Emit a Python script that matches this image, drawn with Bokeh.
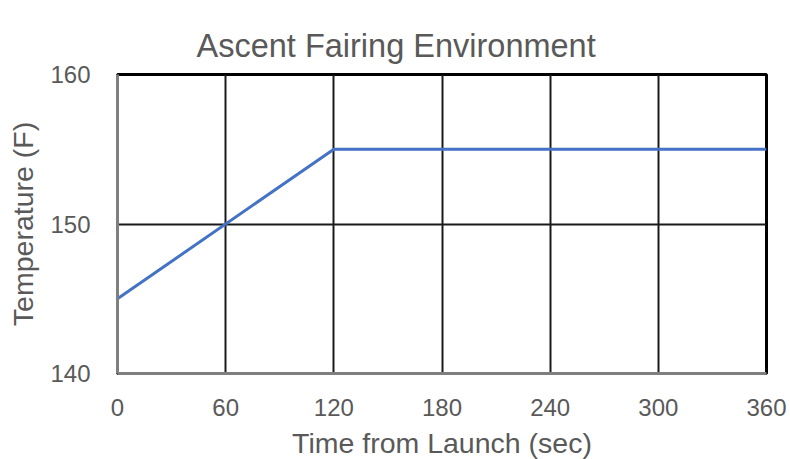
from bokeh.plotting import figure
from bokeh.models import Range1d, FixedTicker, Title
from bokeh.embed import file_html
from bokeh.resources import INLINE

# Data
time_sec = [0, 120, 360]
temperature_f = [145, 155, 155]
x_ticks = [0, 60, 120, 180, 240, 300, 360]
y_ticks = [140, 150, 160]
title_text = "Ascent Fairing Environment"

FONT = "Liberation Sans"
GRAY = "#595959"

p = figure(frame_width=649, frame_height=299, output_backend="svg", toolbar_location=None,
           x_range=Range1d(0, 360), y_range=Range1d(140, 160),
           min_border_left=117, min_border_right=24, min_border_top=74, min_border_bottom=86)
p.title.text = ""

main_title = Title(text=title_text, text_font=FONT, text_font_size="32.5px",
                   text_font_style="normal", text_color=GRAY, align="left",
                   offset=79, vertical_align="top", standoff=18)
p.add_layout(main_title, "above")

# invisible spacer panel between the title and the frame
spacer = Title(text=".", text_font_size="1px", standoff=16, text_color=GRAY, text_alpha=0)
p.add_layout(spacer, "above")

p.line(time_sec, temperature_f, line_color="#4472C4", line_width=3)

p.xaxis.ticker = FixedTicker(ticks=x_ticks)
p.yaxis.ticker = FixedTicker(ticks=y_ticks)
p.xaxis.axis_label = "Time from Launch (sec)"
p.yaxis.axis_label = "Temperature (F)"
for ax in (p.xaxis, p.yaxis):
    ax.axis_label_text_font = FONT
    ax.axis_label_text_font_size = "28.5px"
    ax.axis_label_text_font_style = "normal"
    ax.axis_label_text_color = GRAY
    ax.major_label_text_font = FONT
    ax.major_label_text_font_size = "24px"
    ax.major_label_text_color = GRAY
    ax.major_tick_line_color = None
    ax.minor_tick_line_color = None
    ax.axis_line_color = "#7f7f7f"
    ax.axis_line_width = 3
p.yaxis.major_label_standoff = 21
p.yaxis.axis_label_standoff = 8
p.xaxis.major_label_standoff = 19
p.xaxis.axis_label_standoff = 8

p.xgrid.grid_line_color = "#1a1a1a"
p.ygrid.grid_line_color = "#1a1a1a"
p.xgrid.grid_line_width = 2
p.ygrid.grid_line_width = 2
p.outline_line_color = "#000000"
p.outline_line_width = 3
p.outline_line_alpha = 1

open("out.html", "w").write(file_html(p, INLINE))
